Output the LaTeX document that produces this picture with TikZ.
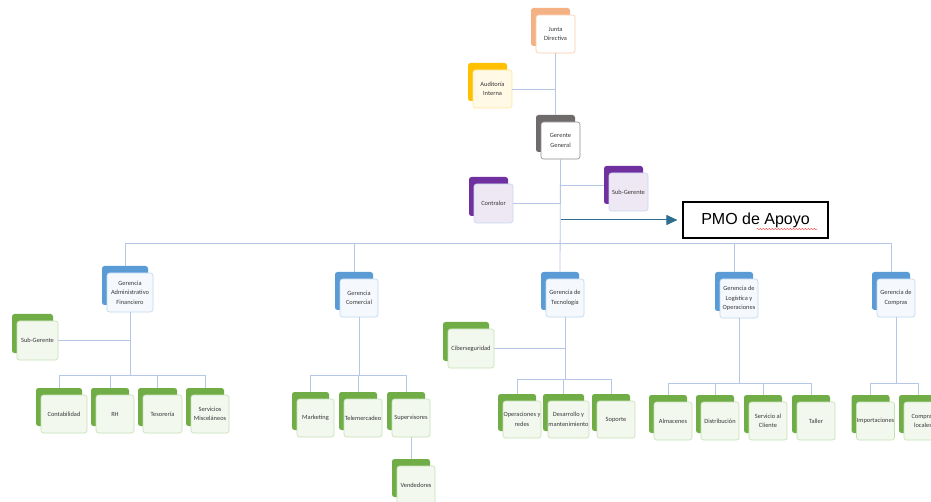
\documentclass[tikz,border=0pt]{standalone}
\usepackage{fontspec}
\usepackage{tikz}
\usetikzlibrary{arrows.meta}
\usetikzlibrary{shadows}
\usetikzlibrary{decorations.pathmorphing}
\usepackage{xcolor}
\newfontfamily\cardfont{Carlito}
\newfontfamily\pmofont{Liberation Sans}
\definecolor{linkblue}{HTML}{B4C7E7}
\definecolor{arrowblue}{HTML}{2E6E8E}
\definecolor{cardtext}{HTML}{383838}
\definecolor{juntaback}{HTML}{F4B183}
\definecolor{juntaline}{HTML}{F8CBAD}
\definecolor{audback}{HTML}{FFC000}
\definecolor{audfill}{HTML}{FFF9E6}
\definecolor{audline}{HTML}{FFE699}
\definecolor{grayback}{HTML}{6F6B6B}
\definecolor{grayline}{HTML}{8C8C8C}
\definecolor{purpleback}{HTML}{7030A0}
\definecolor{purplefill}{HTML}{EEE8F4}
\definecolor{purpleline}{HTML}{C9D6EE}
\definecolor{blueback}{HTML}{5B9BD5}
\definecolor{bluefill}{HTML}{F5F9FD}
\definecolor{blueline}{HTML}{BDD7EE}
\definecolor{greenback}{HTML}{70AD47}
\definecolor{greenfill}{HTML}{F3F8EF}
\definecolor{greenline}{HTML}{C5E0B4}

\begin{document}
\begin{tikzpicture}[x=1pt, y=-1pt,
    link/.style={draw=linkblue, line width=0.8pt},
    card/.style={rounded corners=2.5pt, align=center, inner sep=0pt,
        minimum width=38, minimum height=38, line width=0.6pt,
        text=cardtext, font=\cardfont\fontsize{6.4}{9.5}\selectfont},
    tint/.style n args={3}{fill=#2, draw=#3,
        general shadow={fill=#1, draw=none, shadow xshift=-5pt, shadow yshift=7pt}},
    orangecard/.style={card, tint={juntaback}{white}{juntaline}},
    goldcard/.style={card, tint={audback}{audfill}{audline}},
    graycard/.style={card, tint={grayback}{white}{grayline}},
    purplecard/.style={card, tint={purpleback}{purplefill}{purpleline}},
    bluecard/.style={card, tint={blueback}{bluefill}{blueline}},
    greencard/.style={card, tint={greenback}{greenfill}{greenline}},
    pmobox/.style={draw=black, line width=1.2pt, fill=white,
        minimum width=145, minimum height=36,
        font=\pmofont\fontsize{16}{18}\selectfont},
    pmoarrow/.style={draw=arrowblue, line width=1pt,
        -{Triangle[length=11pt,width=10pt]}, shorten >=5pt},
    squiggle/.style={draw=red!70, line width=0.4pt, decorate,
        decoration={snake, amplitude=0.7pt, segment length=3pt}}]
    \useasboundingbox (0,0) rectangle (931,502);
    \clip (0,0) rectangle (931,502);
    \fill[white] (0,0) rectangle (931,502);

    % top of the chart
    \node[orangecard, minimum width=39] (jd) at (555.5,34) {Junta\\Directiva};
    \node[goldcard, minimum width=39] (aud) at (492.5,89) {Auditoría\\Interna};
    \node[graycard, minimum width=39, minimum height=37] (gg) at (560.5,140.5) {Gerente\\General};
    \node[purplecard, minimum width=39, minimum height=39] (ctl) at (493.5,203.5) {Contralor};
    \node[purplecard, minimum width=39] (sg) at (628.5,192) {Sub-Gerente};
    \node[pmobox] (pmo) at (755.5,220) {PMO de Apoyo};
    \draw[squiggle] ([shift={(1,9)}]pmo.center) -- ++(61,0);

    % gerencias
    \node[bluecard, minimum width=46, minimum height=39] (ga) at (130,292.5) {Gerencia\\Administrativo\\Financiero};
    \node[bluecard] (gc) at (359,298) {Gerencia\\Comercial};
    \node[bluecard] (gt) at (565,298) {Gerencia de\\Tecnología};
    \node[bluecard, minimum height=39] (gl) at (739,298.5) {Gerencia de\\Logística y\\Operaciones};
    \node[bluecard] (gm) at (896,298) {Gerencia de\\Compras};

    % areas
    \node[greencard, minimum width=41, minimum height=39] (sga) at (37.5,340.5) {Sub-Gerente};
    \node[greencard, minimum width=46] (con) at (64,414) {Contabilidad};
    \node[greencard] (rh) at (115,414) {RH};
    \node[greencard, minimum width=39] (tes) at (162.5,414) {Tesorería};
    \node[greencard] (smi) at (210,414) {Servicios\\Misceláneos};

    \node[greencard, minimum width=37] (mkt) at (315.5,418) {Marketing};
    \node[greencard] (tel) at (363,418) {Telemercadeo};
    \node[greencard] (sup) at (411,418) {Supervisores};
    \node[greencard] (ven) at (416,485) {Vendedores};

    \node[greencard, minimum width=46, minimum height=39] (cib) at (471,348.5) {Ciberseguridad};
    \node[greencard, minimum height=37] (opr) at (522,419.5) {Operaciones y\\redes};
    \node[greencard, minimum width=41, minimum height=37] (des) at (568.5,419.5) {Desarrollo y\\mantenimiento};
    \node[greencard, minimum height=37] (sop) at (616,419.5) {Soporte};

    \node[greencard] (alm) at (673,421) {Almacenes};
    \node[greencard] (dis) at (720,421) {Distribución};
    \node[greencard] (sac) at (768,421) {Servicio al\\Cliente};
    \node[greencard] (tal) at (816,421) {Taller};

    \node[greencard, minimum width=38] (imp) at (875.5,421) {Importaciones};
    \node[greencard] (cml) at (923,421) {Compras\\locales};

    % bus levels
    \coordinate (topbus) at (0,243);
    \coordinate (gabus) at (0,375);
    \coordinate (gcbus) at (0,375);
    \coordinate (gtbus) at (0,379);
    \coordinate (glbus) at (0,383);
    \coordinate (gmbus) at (0,383);

    % connectors
    \draw[link] (jd.south) -- ([xshift=-5pt,yshift=7pt]gg.north);
    \draw[link] (aud.east) -| (jd.south);
    \draw[link] (ctl.east) -| (gg.south);
    \draw[link] ([xshift=-5pt,yshift=7pt]sg.west) -| (gg.south);
    \draw[link] (gg.south) -- ([xshift=-5pt,yshift=7pt]gt.north);
    \draw[pmoarrow] (pmo.west -| gg.south) -- (pmo.west);

    \draw[link] ([xshift=-5pt,yshift=7pt]ga.north) |- (gg.south |- topbus);
    \draw[link] ([xshift=-5pt,yshift=7pt]gc.north) |- (gg.south |- topbus);
    \draw[link] ([xshift=-5pt,yshift=7pt]gl.north) |- (gg.south |- topbus);
    \draw[link] ([xshift=-5pt,yshift=7pt]gm.north) |- (gg.south |- topbus);

    \draw[link] (sga.east) -| (ga.south);
    \draw[link] (ga.south) -- (ga.south |- gabus);
    \draw[link] ([xshift=-5pt,yshift=7pt]con.north) |- (ga.south |- gabus);
    \draw[link] ([xshift=-5pt,yshift=7pt]rh.north) |- (ga.south |- gabus);
    \draw[link] ([xshift=-5pt,yshift=7pt]tes.north) |- (ga.south |- gabus);
    \draw[link] ([xshift=-5pt,yshift=7pt]smi.north) |- (ga.south |- gabus);

    \draw[link] (gc.south) -- (gc.south |- gcbus);
    \draw[link] ([xshift=-5pt,yshift=7pt]mkt.north) |- (gc.south |- gcbus);
    \draw[link] ([xshift=-5pt,yshift=7pt]tel.north) |- (gc.south |- gcbus);
    \draw[link] ([xshift=-5pt,yshift=7pt]sup.north) |- (gc.south |- gcbus);
    \draw[link] (sup.south) -- ([xshift=-5pt,yshift=7pt]ven.north);

    \draw[link] (cib.east) -| (gt.south);
    \draw[link] (gt.south) -- (gt.south |- gtbus);
    \draw[link] ([xshift=-5pt,yshift=7pt]opr.north) |- (gt.south |- gtbus);
    \draw[link] ([xshift=-5pt,yshift=7pt]des.north) |- (gt.south |- gtbus);
    \draw[link] ([xshift=-5pt,yshift=7pt]sop.north) |- (gt.south |- gtbus);

    \draw[link] (gl.south) -- (gl.south |- glbus);
    \draw[link] ([xshift=-5pt,yshift=7pt]alm.north) |- (gl.south |- glbus);
    \draw[link] ([xshift=-5pt,yshift=7pt]dis.north) |- (gl.south |- glbus);
    \draw[link] ([xshift=-5pt,yshift=7pt]sac.north) |- (gl.south |- glbus);
    \draw[link] ([xshift=-5pt,yshift=7pt]tal.north) |- (gl.south |- glbus);

    \draw[link] (gm.south) -- (gm.south |- gmbus);
    \draw[link] ([xshift=-5pt,yshift=7pt]imp.north) |- (gm.south |- gmbus);
    \draw[link] ([xshift=-5pt,yshift=7pt]cml.north) |- (gm.south |- gmbus);
\end{tikzpicture}
\end{document}
